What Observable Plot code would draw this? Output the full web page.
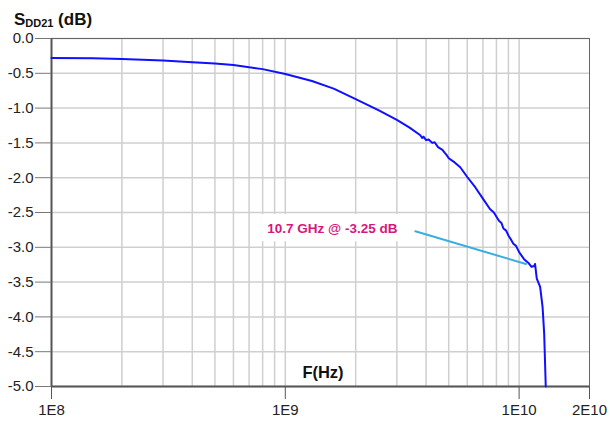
<!DOCTYPE html>
<html>
<head>
<meta charset="utf-8">
<script src="https://cdn.jsdelivr.net/npm/d3@7"></script>
<script src="https://cdn.jsdelivr.net/npm/@observablehq/plot@0.6"></script>
<style>
  html, body { margin: 0; padding: 0; background: #fff; }
  #chart { width: 610px; height: 421px; }
</style>
</head>
<body>
<div id="chart"></div>
<script>
// Frequency (Hz) and differential insertion loss SDD21 (dB)
const freq = [
  1e8, 1.5e8, 2e8, 3e8, 4e8, 5e8, 6e8, 8e8, 1e9, 1.3e9, 1.61e9, 2e9, 2.5e9, 3e9, 3.4e9,
  3.78e9, 3.85e9, 3.9e9, 4e9, 4.1e9, 4.25e9, 4.35e9, 4.5e9, 4.7e9, 4.8e9, 4.91e9, 5e9,
  5.3e9, 5.6e9, 6e9, 6.5e9, 7e9, 7.5e9, 7.8e9, 8e9, 8.2e9, 8.4e9, 8.57e9, 8.8e9, 9e9,
  9.2e9, 9.45e9, 9.7e9, 1e10, 1.05e10, 1.1e10, 1.13e10, 1.16e10, 1.17e10, 1.19e10,
  1.23e10, 1.26e10, 1.28e10, 1.3e10
];
const sdd21 = [
  -0.28, -0.285, -0.295, -0.315, -0.34, -0.36, -0.38, -0.44, -0.51, -0.61, -0.72, -0.87, -1.03, -1.17, -1.28,
  -1.39, -1.43, -1.41, -1.46, -1.45, -1.50, -1.49, -1.56, -1.60, -1.64, -1.68, -1.72,
  -1.78, -1.85, -1.99, -2.14, -2.30, -2.45, -2.50, -2.56, -2.62, -2.65, -2.73, -2.76, -2.83,
  -2.88, -2.95, -2.98, -3.07, -3.17, -3.23, -3.28, -3.27, -3.24, -3.45,
  -3.57, -3.86, -4.24, -5.0
];

// Axes
const xTicks = [1e8, 1e9, 1e10, 2e10];
const xTickLabels = ["1E8", "1E9", "1E10", "2E10"];
const xGrid = [2e8, 3e8, 4e8, 5e8, 6e8, 7e8, 8e8, 9e8, 1e9, 2e9, 3e9, 4e9, 5e9, 6e9, 7e9, 8e9, 9e9, 1e10];
const yTicks = [0, -0.5, -1, -1.5, -2, -2.5, -3, -3.5, -4, -4.5, -5];

// Annotation
const annoText = "10.7 GHz @ -3.25 dB";
const annoTextPos = [1.59e9, -2.73];
const annoBox = [7.97e8, 3.1e9, -2.53, -2.92];
const annoLineX = [3.6e9, 1.07e10];
const annoLineY = [-2.77, -3.24];

const data = freq.map((f, i) => ({f, db: sdd21[i]}));
const annoLine = annoLineX.map((x, i) => ({x, y: annoLineY[i]}));

const font = "'Liberation Sans', Arial, sans-serif";

const plot = Plot.plot({
  width: 610,
  height: 421,
  marginLeft: 51,
  marginRight: 21,
  marginTop: 38,
  marginBottom: 35,
  style: {fontFamily: font, fontSize: "15px", background: "#fff", overflow: "visible"},
  x: {type: "log", domain: [1e8, 2e10]},
  y: {domain: [-5, 0]},
  marks: [
    Plot.ruleX(xGrid, {stroke: "#cfcfcf", strokeWidth: 1.5}),
    Plot.ruleY(yTicks, {stroke: "#cfcfcf", strokeWidth: 1.5}),
    Plot.rect([annoBox], {x1: d => d[0], x2: d => d[1], y1: d => d[2], y2: d => d[3], fill: "#fff"}),
    Plot.frame({stroke: "#666", strokeWidth: 1}),
    Plot.ruleX([1e8], {stroke: "#555", strokeWidth: 2}),
    Plot.ruleY([-5], {stroke: "#555", strokeWidth: 2}),
    Plot.axisX({
      ticks: xTicks, tickFormat: (d, i) => xTickLabels[xTicks.indexOf(d)],
      tickSize: 13, tickPadding: 5, stroke: "#555", fill: "#222", fontSize: 15, label: null
    }),
    Plot.axisY({
      ticks: yTicks, tickFormat: d => d.toFixed(1),
      tickSize: 16, tickPadding: 2, stroke: "#777", fill: "#222", fontSize: 15, label: null
    }),
    Plot.line(annoLine, {x: "x", y: "y", stroke: "#3aaee0", strokeWidth: 2}),
    Plot.line(data, {x: "f", y: "db", stroke: "#1010ff", strokeWidth: 2, curve: "linear"}),
    Plot.text([annoText], {
      x: () => annoTextPos[0], y: () => annoTextPos[1], text: d => d,
      fill: "#d6177f", fontWeight: "bold", fontSize: 13.5, textAnchor: "middle"
    })
  ]
});

const svg = d3.select(plot);
// y-axis title with subscript
const t = svg.append("text")
  .attr("x", 53).attr("y", 25)
  .attr("font-family", font).attr("font-weight", "bold").attr("font-size", 17).attr("fill", "#111");
t.append("tspan").text("S");
t.append("tspan").attr("font-size", 11).attr("dy", 2).text("DD21");
t.append("tspan").attr("dy", -2).text(" (dB)");
// x-axis title
svg.append("text")
  .attr("x", 323).attr("y", 378)
  .attr("text-anchor", "middle")
  .attr("font-family", font).attr("font-weight", "bold").attr("font-size", 16.5).attr("fill", "#111")
  .text("F(Hz)");

document.getElementById("chart").appendChild(plot);
</script>
</body>
</html>
